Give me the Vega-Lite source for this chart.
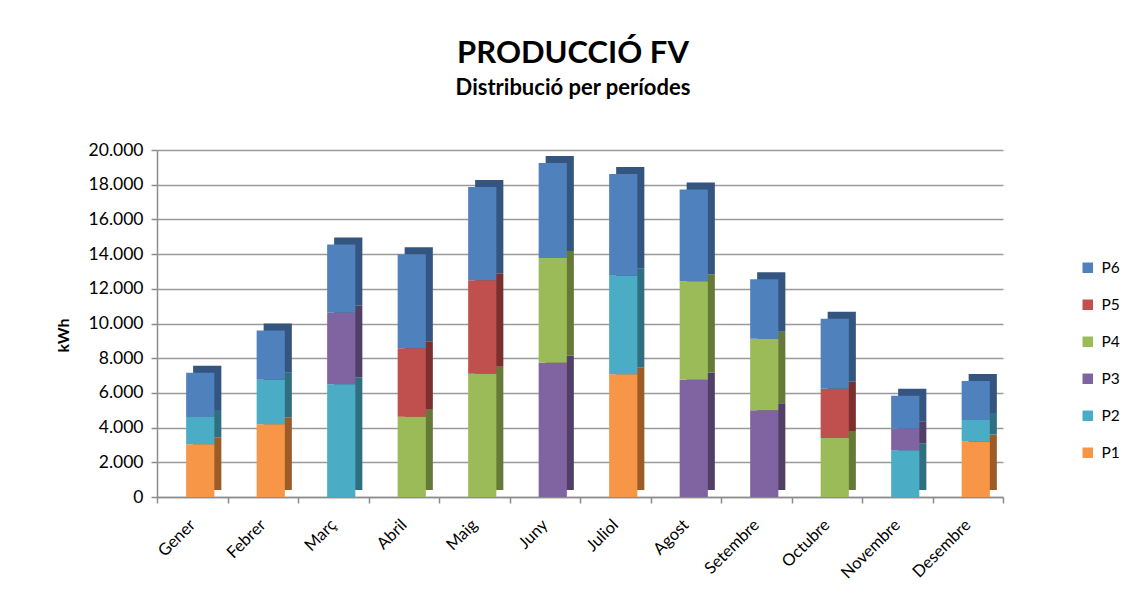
{
  "$schema": "https://vega.github.io/schema/vega-lite/v6.json",
  "autosize": {"type": "none"},
  "width": 846,
  "height": 347,
  "padding": {"left": 157, "top": 150, "right": 125, "bottom": 104},
  "background": "#ffffff",
  "config": {
    "font": "Lato",
    "view": {"stroke": null},
    "axis": {"labelFont": "Lato", "titleFont": "Lato"}
  },
  "title": {
    "text": "PRODUCCIÓ FV",
    "subtitle": "Distribució per períodes",
    "anchor": "middle",
    "frame": "group",
    "dx": -7,
    "offset": 41,
    "font": "Lato",
    "fontSize": 31,
    "fontWeight": "bold",
    "color": "#000000",
    "subtitleFont": "Lato",
    "subtitleFontSize": 22,
    "subtitleFontWeight": "bold",
    "subtitleColor": "#000000",
    "subtitlePadding": 8
  },
  "data": {
    "values": [
      {"mes": "Gener", "periode": "P1", "kWh": 3040},
      {"mes": "Gener", "periode": "P2", "kWh": 1570},
      {"mes": "Gener", "periode": "P6", "kWh": 2550},
      {"mes": "Febrer", "periode": "P1", "kWh": 4190},
      {"mes": "Febrer", "periode": "P2", "kWh": 2570},
      {"mes": "Febrer", "periode": "P6", "kWh": 2840},
      {"mes": "Març", "periode": "P2", "kWh": 6500},
      {"mes": "Març", "periode": "P3", "kWh": 4120},
      {"mes": "Març", "periode": "P6", "kWh": 3940},
      {"mes": "Abril", "periode": "P4", "kWh": 4630},
      {"mes": "Abril", "periode": "P5", "kWh": 3940},
      {"mes": "Abril", "periode": "P6", "kWh": 5420},
      {"mes": "Maig", "periode": "P4", "kWh": 7110},
      {"mes": "Maig", "periode": "P5", "kWh": 5380},
      {"mes": "Maig", "periode": "P6", "kWh": 5380},
      {"mes": "Juny", "periode": "P3", "kWh": 7740},
      {"mes": "Juny", "periode": "P4", "kWh": 6030},
      {"mes": "Juny", "periode": "P6", "kWh": 5480},
      {"mes": "Juliol", "periode": "P1", "kWh": 7070},
      {"mes": "Juliol", "periode": "P2", "kWh": 5680},
      {"mes": "Juliol", "periode": "P6", "kWh": 5870},
      {"mes": "Agost", "periode": "P3", "kWh": 6760},
      {"mes": "Agost", "periode": "P4", "kWh": 5670},
      {"mes": "Agost", "periode": "P6", "kWh": 5300},
      {"mes": "Setembre", "periode": "P3", "kWh": 5000},
      {"mes": "Setembre", "periode": "P4", "kWh": 4120},
      {"mes": "Setembre", "periode": "P6", "kWh": 3430},
      {"mes": "Octubre", "periode": "P4", "kWh": 3400},
      {"mes": "Octubre", "periode": "P5", "kWh": 2840},
      {"mes": "Octubre", "periode": "P6", "kWh": 4040},
      {"mes": "Novembre", "periode": "P2", "kWh": 2690},
      {"mes": "Novembre", "periode": "P3", "kWh": 1250},
      {"mes": "Novembre", "periode": "P6", "kWh": 1900},
      {"mes": "Desembre", "periode": "P1", "kWh": 3190},
      {"mes": "Desembre", "periode": "P2", "kWh": 1250},
      {"mes": "Desembre", "periode": "P6", "kWh": 2250}
    ]
  },
  "encoding": {
    "x": {
      "field": "mes",
      "type": "nominal",
      "sort": ["Gener", "Febrer", "Març", "Abril", "Maig", "Juny", "Juliol", "Agost", "Setembre", "Octubre", "Novembre", "Desembre"],
      "scale": {"paddingInner": 0, "paddingOuter": 0},
      "axis": {
        "title": null,
        "labelAngle": -45,
        "labelAlign": "right",
        "labelBaseline": "middle",
        "labelFontSize": 16.5,
        "labelColor": "#000000",
        "labelPadding": 19,
        "domainColor": "#8c8c8c",
        "domainWidth": 1.5,
        "tickColor": "#8c8c8c",
        "tickSize": 6,
        "tickWidth": 1.5,
        "tickBand": "extent",
        "grid": false
      }
    },
    "y": {
      "field": "kWh",
      "type": "quantitative",
      "stack": "zero",
      "scale": {"domain": [0, 20000], "nice": false},
      "axis": {
        "title": "kWh",
        "titleFontSize": 16,
        "titleFontWeight": "bold",
        "titleColor": "#000000",
        "titleAngle": -90,
        "titleX": -94,
        "titleY": 185,
        "titleAlign": "center",
        "titleBaseline": "middle",
        "values": [0, 2000, 4000, 6000, 8000, 10000, 12000, 14000, 16000, 18000, 20000],
        "labelExpr": "replace(format(datum.value, ',d'), ',', '.')",
        "labelFontSize": 17.5,
        "labelColor": "#000000",
        "labelPadding": 8,
        "domainColor": "#8c8c8c",
        "domainWidth": 1.5,
        "tickColor": "#8c8c8c",
        "tickSize": 6,
        "tickWidth": 1.5,
        "grid": true,
        "gridColor": "#9a9a9a",
        "gridWidth": 1.5
      }
    },
    "order": {"field": "periode", "type": "nominal", "sort": "ascending"}
  },
  "layer": [
    {
      "mark": {
        "type": "bar",
        "width": {"band": 0.4},
        "xOffset": 15,
        "x2Offset": 15,
        "yOffset": -7,
        "y2Offset": -7
      },
      "encoding": {
        "color": {
          "field": "periode",
          "type": "nominal",
          "scale": {
            "domain": ["P1", "P2", "P3", "P4", "P5", "P6"],
            "range": ["#9c5b27", "#2f6f80", "#523f68", "#647a36", "#7c302e", "#33557f"]
          },
          "legend": null
        }
      }
    },
    {
      "mark": {
        "type": "bar",
        "width": {"band": 0.4},
        "xOffset": 8,
        "x2Offset": 8
      },
      "encoding": {
        "color": {
          "field": "periode",
          "type": "nominal",
          "scale": {
            "domain": ["P1", "P2", "P3", "P4", "P5", "P6"],
            "range": ["#f79646", "#4bacc6", "#8064a2", "#9bbb59", "#c0504d", "#4f81bd"]
          },
          "legend": {
            "title": null,
            "orient": "none",
            "legendX": 923,
            "legendY": 110,
            "values": ["P6", "P5", "P4", "P3", "P2", "P1"],
            "symbolType": "square",
            "symbolSize": 110,
            "symbolStrokeWidth": 0,
            "labelFontSize": 15.5,
            "labelColor": "#000000",
            "labelOffset": 6,
            "rowPadding": 20
          }
        }
      }
    }
  ],
  "resolve": {"scale": {"color": "independent"}}
}
